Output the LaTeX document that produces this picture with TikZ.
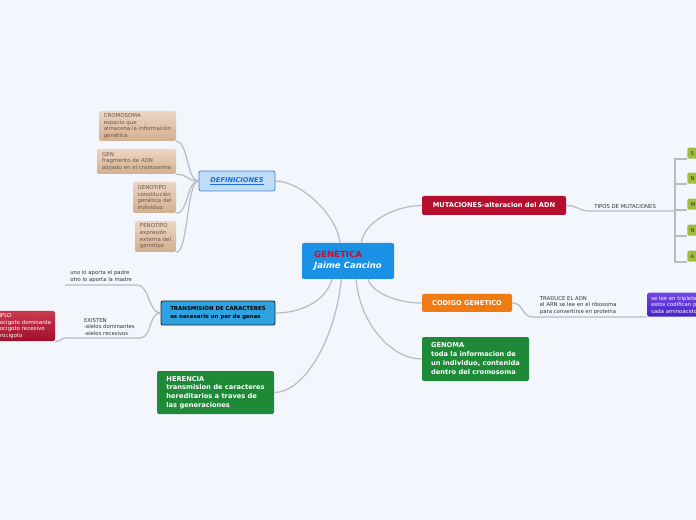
\documentclass[tikz,border=0pt]{standalone}
\usepackage{fontspec}
\setmainfont{DejaVu Sans}
\usepackage{xcolor}
\usetikzlibrary{positioning}

\definecolor{fondo}{HTML}{F3F6FD}
\definecolor{linea}{HTML}{B9BAC6}
\definecolor{azulcentro}{HTML}{1B91E5}
\definecolor{rojotit}{HTML}{C8102E}
\definecolor{celeste}{HTML}{BFDDF6}
\definecolor{azulborde}{HTML}{3B82D6}
\definecolor{azultexto}{HTML}{1A6ED8}
\definecolor{tanclaro}{HTML}{ECD6C4}
\definecolor{tanoscuro}{HTML}{D3AF8E}
\definecolor{cafetexto}{HTML}{6C5545}
\definecolor{rojomut}{HTML}{B50E2E}
\definecolor{naranja}{HTML}{F07B12}
\definecolor{verde}{HTML}{1E8A38}
\definecolor{azultrans}{HTML}{2EA3E2}
\definecolor{rojoclaro}{HTML}{CC3A50}
\definecolor{rojooscuro}{HTML}{A0102A}
\definecolor{moradoclaro}{HTML}{7048E8}
\definecolor{moradooscuro}{HTML}{4A22C4}
\definecolor{oliva}{HTML}{A0BE3C}
\definecolor{textogris}{HTML}{333333}

\newcommand{\tam}[2]{\fontsize{#1}{#2}\selectfont}

\tikzset{
  rama/.style={draw=linea, line width=0.9pt},
  caja/.style={rounded corners=1.5pt, align=left, inner sep=0pt},
  defcaja/.style={caja, top color=tanclaro, bottom color=tanoscuro, text=cafetexto, font=\tam{4.1}{5}},
  tema/.style={caja, text=white, font=\bfseries\tam{5}{6.6}},
  etiqueta/.style={align=left, text=textogris, font=\tam{4}{5}, inner xsep=3pt, inner ysep=1.5pt},
  tipocaja/.style={caja, fill=oliva, text=textogris, font=\tam{4}{5}, minimum height=8.25pt, text width=22pt, inner xsep=2.5pt}
}

\begin{document}
\begin{tikzpicture}[x=0.75pt, y=-0.75pt]
    \useasboundingbox (0,0) rectangle (696,520);
    \clip (0,0) rectangle (696,520);
    \fill[fondo] (0,0) rectangle (696,520);

    % Nodo central
    \node[caja, fill=azulcentro, minimum width=69pt, minimum height=27pt, font=\bfseries\tam{6.4}{8.25}]
        (genetica) at (348,261) {\textcolor{rojotit}{GENETICA}\\\textcolor{white}{\itshape Jaime Cancino}};

    % Definiciones y sus hojas
    \node[caja, fill=celeste, draw=azulborde, line width=0.6pt, minimum width=57pt, minimum height=15pt,
        text=azultexto, font=\bfseries\itshape\tam{5}{6}] (def) at (237,181) {\underline{DEFINICIONES}};
    \node[defcaja, minimum width=57.75pt, minimum height=22.5pt] (cromo) at (137.5,126)
        {CROMOSOMA\\espacio que\\almacena la información\\genética};
    \node[defcaja, minimum width=59.25pt, minimum height=18.75pt] (gen) at (136.5,161.5)
        {GEN\\fragmento de ADN\\ alojado en el cromosoma};
    \node[defcaja, minimum width=32.25pt, minimum height=23.25pt] (genotipo) at (154.5,197.5)
        {GENOTIPO\\constitución\\genética del\\individuo};
    \node[defcaja, minimum width=30.75pt, minimum height=23.25pt] (fenotipo) at (155.5,236.5)
        {PENOTIPO\\expresión\\externa del\\genotipo};

    % Temas de la derecha
    \node[tema, fill=rojomut, minimum width=108pt, minimum height=14.25pt] (mut) at (494,205.5)
        {MUTACIONES-alteracion del ADN};
    \node[tema, fill=naranja, minimum width=67.5pt, minimum height=13.5pt] (cod) at (467,303)
        {CODIGO GENETICO};
    \node[tema, fill=verde, minimum width=80.25pt, minimum height=33pt, font=\bfseries\tam{5}{6.75}] (genoma) at (475.5,359)
        {GENOMA\\toda la informacion de\\un individuo, contenida\\dentro del cromosoma};

    % Temas de la izquierda
    \node[caja, fill=azultrans, draw=black!85, line width=0.7pt, minimum width=85.5pt, minimum height=18pt,
        font=\bfseries\tam{4.1}{6}] (trans) at (218,313) {TRANSMISION DE CARACTERES\\es necesario un par de genes};
    \node[tema, fill=verde, minimum width=87.75pt, minimum height=32.25pt, font=\bfseries\tam{5}{6.4}] (her) at (215.5,392.5)
        {HERENCIA\\transmision de caracteres\\hereditarios a traves de\\las generaciones};
    \node[caja, top color=rojoclaro, bottom color=rojooscuro, text=white, font=\tam{4.1}{5},
        minimum width=53.25pt, minimum height=22.5pt] (ejem) at (19.5,326)
        {EJEMPLO\\homocigoto dominante\\homocigoto recesivo\\heterocigoto};

    % Etiquetas sueltas
    \node[etiqueta, anchor=south west] (tipos) at (590,211) {TIPOS DE MUTACIONES};
    \node[etiqueta, anchor=south west, inner xsep=5pt] (trad) at (533,317)
        {TRADUCE EL ADN\\el ARN se lee en el ribosoma\\para convertirse en proteina};
    \node[etiqueta, anchor=south west, inner xsep=3.75pt] (padre) at (65,285)
        {uno lo aporta el padre\\otro lo aporta la madre};
    \node[etiqueta, anchor=south east, inner xsep=3.75pt] (existen) at (140,338)
        {EXISTEN\\-alelos dominantes\\-alelos recesivos};
    \coordinate (exini) at (67,338);
    \node[caja, top color=moradoclaro, bottom color=moradooscuro, text=white, font=\tam{4}{4.9},
        anchor=south west, minimum height=18pt, text width=52pt, inner xsep=3pt] (lee) at (647,317)
        {se lee en tripletes\\estos codifican para\\cada aminoácido};

    % Ramas desde el centro
    \draw[rama] ([xshift=-6pt]genetica.north) .. controls +(-3,-28) and +(25,0) .. (def.east);
    \draw[rama] ([xshift=10pt]genetica.north) .. controls +(3,-22) and +(-25,0) .. (mut.west);
    \draw[rama] ([xshift=15pt]genetica.south) .. controls +(5,15) and +(-22,0) .. (cod.west);
    \draw[rama] ([xshift=6pt]genetica.south) .. controls +(4,45) and +(-30,0) .. (genoma.west);
    \draw[rama] ([xshift=-12pt]genetica.south) .. controls +(-6,22) and +(25,0) .. (trans.east);
    \draw[rama] ([xshift=-5pt]genetica.south) .. controls +(-6,60) and +(30,0) .. (her.east);

    % Ramas de definiciones
    \foreach \n in {cromo,gen,genotipo,fenotipo}
        \draw[rama] (def.west) .. controls +(-12,0) and +(12,0) .. (\n.south east);

    % Tipos de mutaciones
    \draw[rama] (mut.east) .. controls +(12,0) and +(-12,0) .. (tipos.south west) -- ++(85,0) coordinate (tipofin);
    \foreach \l/\y [count=\i] in {S/159,N/184,M/210,N/236,A/262} {
        \node[tipocaja, anchor=south west] (m\i) at (687,\y) {\l};
        \draw[rama] (tipofin) |- (m\i.south west);
    }

    % Codigo genetico
    \draw[rama] (cod.east) .. controls +(12,0) and +(-12,0) .. (trad.south west) -- (lee.south west);

    % Transmision
    \draw[rama] (trans.west) .. controls +(-12,0) and +(12,0) .. (padre.south east) -- (padre.south west);
    \draw[rama] (trans.west) .. controls +(-12,0) and +(12,0) .. (existen.south east) -- (exini)
        .. controls +(-8,0) and +(8,0) .. (ejem.south east);
\end{tikzpicture}
\end{document}
